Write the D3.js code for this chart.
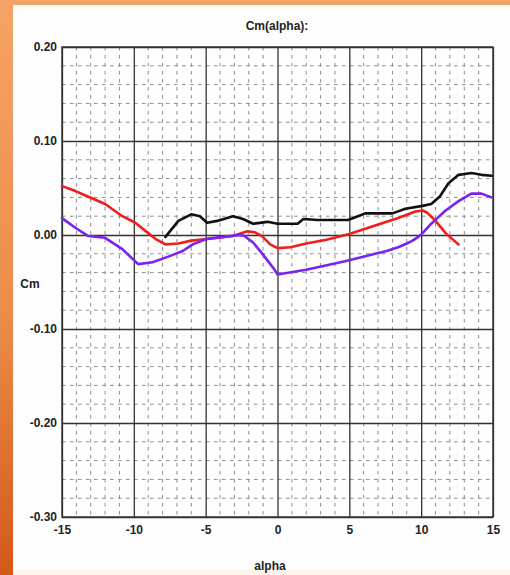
<!DOCTYPE html>
<html>
<head>
<meta charset="utf-8">
<script src="https://cdn.jsdelivr.net/npm/d3@7"></script>
<style>
  html, body { margin: 0; padding: 0; background: #fff; }
  svg { display: block; }
  text { font-family: Arial, "Liberation Sans", sans-serif; font-weight: bold; fill: #222; }
</style>
</head>
<body>
<svg id="chart" width="510" height="575"></svg>
<script>
// Pitching moment coefficient versus angle of attack, three configurations
const xTicks = [-15, -10, -5, 0, 5, 10, 15];
const yTicks = [0.20, 0.10, 0.00, -0.10, -0.20, -0.30];

const alphaRed = [-15, -14.1, -13.2, -12.0, -10.8, -9.9, -9.0, -8.5, -7.8, -6.9, -6.0, -4.7, -3.1, -2.1, -1.6, -1.1, -0.5, 0.0, 0.9, 2.0, 3.4, 5.0, 6.8, 8.4, 9.6, 10.1, 10.4, 11.0, 11.7, 12.6];
const cmRed    = [0.052, 0.047, 0.041, 0.033, 0.020, 0.013, 0.002, -0.004, -0.010, -0.009, -0.006, -0.004, -0.001, 0.004, 0.003, -0.001, -0.010, -0.014, -0.013, -0.009, -0.005, 0.001, 0.010, 0.018, 0.025, 0.026, 0.024, 0.015, 0.002, -0.010];

const alphaPurple = [-15, -14.1, -13.2, -12.0, -10.8, -9.7, -8.7, -7.6, -6.6, -5.9, -4.9, -3.8, -2.6, -2.3, -1.7, -1.1, -0.5, -0.2, 0.0, 2.0, 4.7, 6.8, 7.6, 8.4, 9.0, 9.4, 9.8, 10.1, 10.7, 11.2, 11.7, 12.6, 13.5, 14.2, 14.9];
const cmPurple    = [0.018, 0.008, -0.001, -0.003, -0.015, -0.031, -0.029, -0.023, -0.017, -0.010, -0.004, -0.002, 0.000, -0.001, -0.008, -0.019, -0.031, -0.037, -0.042, -0.037, -0.028, -0.020, -0.017, -0.013, -0.009, -0.006, -0.002, 0.002, 0.012, 0.019, 0.026, 0.036, 0.044, 0.044, 0.040];

const alphaBlack = [-7.8, -6.9, -6.0, -5.4, -4.9, -4.2, -3.1, -2.4, -1.7, -0.7, 0.0, 1.4, 1.8, 2.8, 3.7, 4.9, 5.6, 6.1, 8.0, 8.9, 10.1, 10.7, 11.3, 11.9, 12.6, 13.5, 14.2, 14.9];
const cmBlack    = [-0.002, 0.015, 0.022, 0.020, 0.013, 0.015, 0.020, 0.017, 0.012, 0.014, 0.012, 0.012, 0.017, 0.016, 0.016, 0.016, 0.020, 0.023, 0.023, 0.028, 0.031, 0.033, 0.041, 0.055, 0.064, 0.066, 0.064, 0.063];

const series = [
  { name: "black",  color: "#111111", alpha: alphaBlack,  cm: cmBlack },
  { name: "red",    color: "#f21d1d", alpha: alphaRed,    cm: cmRed },
  { name: "purple", color: "#7a22f5", alpha: alphaPurple, cm: cmPurple }
];

const svg = d3.select("#chart");
const W = 510, H = 575;

// Orange frame around the white panel
const defs = svg.append("defs");
const grad = defs.append("linearGradient").attr("id", "edge").attr("x1", 0).attr("y1", 0).attr("x2", 0).attr("y2", 1);
grad.append("stop").attr("offset", "0%").attr("stop-color", "#f5a365");
grad.append("stop").attr("offset", "55%").attr("stop-color", "#ec8c4a");
grad.append("stop").attr("offset", "100%").attr("stop-color", "#d2591a");
svg.append("rect").attr("width", W).attr("height", H).attr("fill", "url(#edge)");
svg.append("rect").attr("x", 0).attr("y", 0).attr("width", W).attr("height", 5).attr("fill", "#f5a468");
svg.append("rect").attr("x", 13).attr("y", 5).attr("width", W - 13).attr("height", H - 5).attr("fill", "#fdf4ea");
svg.append("rect").attr("x", 13).attr("y", 5).attr("width", W - 13).attr("height", 565).attr("fill", "#fefefe");

const x = d3.scaleLinear().domain([-15, 15]).range([62, 493]);
const y = d3.scaleLinear().domain([-0.3, 0.2]).range([517, 47]);

const plot = svg.append("g");

// Minor dashed grid
const minorX = d3.range(-15, 15.001, 1).filter(v => v % 5 !== 0);
const minorY = d3.range(-0.3, 0.2001, 0.02).filter(v => Math.abs(Math.round(v * 10) - v * 10) > 1e-6);
plot.selectAll("line.mx").data(minorX).join("line")
  .attr("x1", d => x(d)).attr("x2", d => x(d))
  .attr("y1", y(0.2)).attr("y2", y(-0.3))
  .attr("stroke", "#8a8a8a").attr("stroke-width", 1).attr("stroke-dasharray", "3.5,4.5");
plot.selectAll("line.my").data(minorY).join("line")
  .attr("x1", x(-15)).attr("x2", x(15))
  .attr("y1", d => y(d)).attr("y2", d => y(d))
  .attr("stroke", "#8a8a8a").attr("stroke-width", 1).attr("stroke-dasharray", "3.5,4.5");

// Major solid grid and axes (plain hyphen for negative labels)
const fmtX = d => String(d);
const fmtY = d => d3.format(".2f")(d).replace("\u2212", "-");
const xAxis = d3.axisBottom(x).tickValues(xTicks).tickSize(-(y(-0.3) - y(0.2))).tickFormat(fmtX).tickPadding(8);
const yAxis = d3.axisLeft(y).tickValues(yTicks).tickSize(-(x(15) - x(-15))).tickFormat(fmtY).tickPadding(5);

const gx = plot.append("g").attr("transform", `translate(0,${y(-0.3)})`).call(xAxis);
const gy = plot.append("g").attr("transform", `translate(${x(-15)},0)`).call(yAxis);
[gx, gy].forEach(g => {
  g.select(".domain").remove();
  g.selectAll(".tick line").attr("stroke", "#333").attr("stroke-width", 1.3);
  g.selectAll(".tick text").attr("fill", "#222").style("font-size", "12px").style("font-weight", "bold");
});

// Plot frame
plot.append("rect")
  .attr("x", x(-15)).attr("y", y(0.2))
  .attr("width", x(15) - x(-15)).attr("height", y(-0.3) - y(0.2))
  .attr("fill", "none").attr("stroke", "#333").attr("stroke-width", 1.4);

// Curves
const line = d3.line().x(d => x(d[0])).y(d => y(d[1]));
plot.selectAll("path.curve").data(series).join("path")
  .attr("class", "curve")
  .attr("d", s => line(s.alpha.map((a, i) => [a, s.cm[i]])))
  .attr("fill", "none").attr("stroke", s => s.color)
  .attr("stroke-width", 2.6).attr("stroke-linejoin", "round").attr("stroke-linecap", "round");

// Titles
svg.append("text").attr("x", 277).attr("y", 30).attr("text-anchor", "middle").style("font-size", "12px").text("Cm(alpha):");
svg.append("text").attr("x", 30).attr("y", 288).attr("text-anchor", "middle").style("font-size", "12px").text("Cm");
svg.append("text").attr("x", 270).attr("y", 570).attr("text-anchor", "middle").style("font-size", "12px").text("alpha");
</script>
</body>
</html>
